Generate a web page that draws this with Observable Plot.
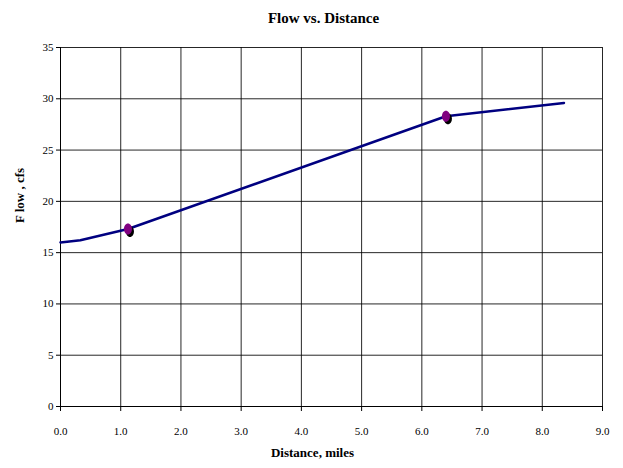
<!DOCTYPE html>
<html>
<head>
<meta charset="utf-8">
<script src="https://cdn.jsdelivr.net/npm/d3@7"></script>
<script src="https://cdn.jsdelivr.net/npm/@observablehq/plot@0.6"></script>
<style>
  html, body { margin: 0; padding: 0; background: #fff; }
  #title { width: 623px; height: 30px; box-sizing: border-box; padding-left: 24px; text-align: center;
           font-family: 'Liberation Serif', serif; font-weight: bold; font-size: 15px; line-height: 36px; color: #000; }
  #chart svg { display: block; }
  #chart svg text { font-family: 'Liberation Serif', serif; }
</style>
</head>
<body>
<div id="title">Flow vs. Distance</div>
<div id="chart"></div>
<script>
const distance = [0, 0.33, 1.12, 6.40, 8.36];
const flow = [16.0, 16.2, 17.3, 28.3, 29.6];
const markerDistance = [1.12, 6.40];
const markerFlow = [17.3, 28.3];
const xTicks = [0, 1, 2, 3, 4, 5, 6, 7, 8, 9];
const yTicks = [0, 5, 10, 15, 20, 25, 30, 35];
const xLabel = "Distance, miles";
const yLabel = "F low , cfs";

const lineData = distance.map((d, i) => ({x: d, y: flow[i]}));
const markerData = markerDistance.map((d, i) => ({x: d, y: markerFlow[i]}));

const ellipse = {
  draw(context, size) {
    const rx = 4, ry = 5.5, k = 0.5523;
    context.moveTo(rx, 0);
    context.bezierCurveTo(rx, ry * k, rx * k, ry, 0, ry);
    context.bezierCurveTo(-rx * k, ry, -rx, ry * k, -rx, 0);
    context.bezierCurveTo(-rx, -ry * k, -rx * k, -ry, 0, -ry);
    context.bezierCurveTo(rx * k, -ry, rx, -ry * k, rx, 0);
    context.closePath();
  }
};

const chart = Plot.plot({
  width: 623,
  height: 438,
  marginTop: 17,
  marginLeft: 60,
  marginRight: 21,
  marginBottom: 62,
  style: {fontSize: "11px", color: "#000", background: "#fff", overflow: "visible"},
  x: {domain: [0, 9], ticks: xTicks, tickFormat: d3.format(".1f")},
  y: {domain: [0, 35], ticks: yTicks},
  marks: [
    Plot.gridX(xTicks, {stroke: "#000", strokeOpacity: 0.85, strokeWidth: 1}),
    Plot.gridY(yTicks, {stroke: "#000", strokeOpacity: 0.85, strokeWidth: 1}),
    Plot.ruleX([0], {stroke: "#000", strokeWidth: 1}),
    Plot.ruleY([0], {stroke: "#000", strokeWidth: 1}),
    Plot.axisX({ticks: xTicks, tickFormat: d3.format(".1f"), tickSize: 5, tickPadding: 16,
      label: null, fontSize: 11}),
    Plot.axisY({ticks: yTicks, tickSize: 4, tickPadding: 3, label: null, fontSize: 11}),
    Plot.text([xLabel], {frameAnchor: "bottom", dx: -19, dy: 50, fontWeight: "bold", fontSize: 13}),
    Plot.text([yLabel], {frameAnchor: "left", rotate: -90, dx: -41, dy: -4, fontWeight: "bold", fontSize: 13}),
    Plot.line(lineData, {x: "x", y: "y", stroke: "#000080", strokeWidth: 2.5}),
    Plot.dot(markerData, {x: "x", y: "y", symbol: ellipse, fill: "#000", stroke: "none", dx: 2, dy: 2.5}),
    Plot.dot(markerData, {x: "x", y: "y", symbol: ellipse, fill: "#800080", stroke: "none"})
  ]
});

document.getElementById("chart").appendChild(chart);
</script>
</body>
</html>
